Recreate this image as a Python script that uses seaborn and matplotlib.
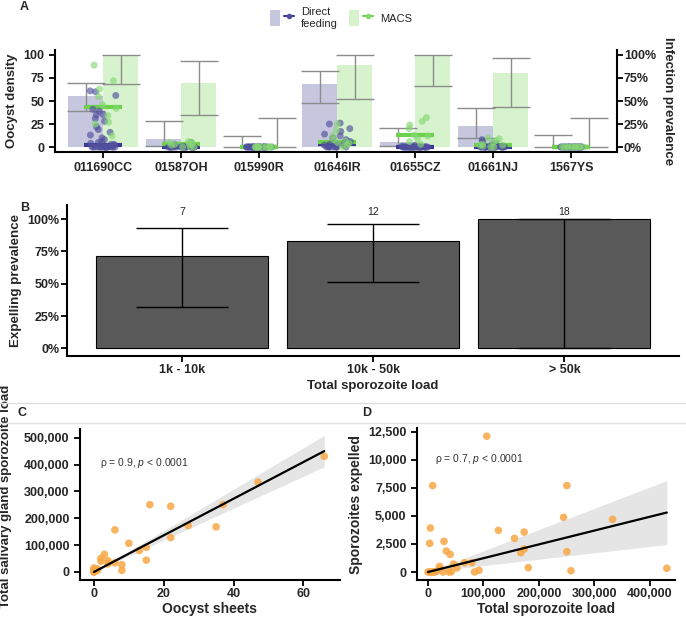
"""
Figura com quatro painéis: prevalência de infecção, prevalência de expulsão e correlações de carga de esporozoítos
"""

import numpy as np
import pandas as pd
import matplotlib
matplotlib.use('Agg')
import matplotlib.pyplot as plt
import seaborn as sns
from matplotlib.patches import Patch
from matplotlib.lines import Line2D
from matplotlib.legend_handler import HandlerTuple
from matplotlib.ticker import FuncFormatter

# ---------------- Dados ----------------
strains = ['011690CC', '01587OH', '015990R', '01646IR', '01655CZ', '01661NJ', '1567YS']
methods = ['Direct feeding', 'MACS']

# Prevalência de infecção (%) e IC 95%
prev_df = [55, 9, 0, 68, 6, 23, 0]
prev_df_lo = [39, 1, 0, 48, 1, 10, 0]
prev_df_hi = [70, 28, 12, 83, 21, 42, 13]
prev_macs = [100, 70, 0, 89, 100, 80, 0]
prev_macs_lo = [69, 35, 0, 52, 66, 44, 0]
prev_macs_hi = [100, 93, 31, 100, 100, 97, 31]

# Densidade de oocistos por mosquito
dens_df_011690CC = [0] * 18 + [1, 2, 3, 3, 4, 5, 6, 8, 10, 13, 16, 19, 22, 28, 31, 35, 35, 39, 41, 56, 60, 61]
dens_df_01587OH = [0] * 20 + [3, 5]
dens_df_015990R = [0] * 28
dens_df_01646IR = [0] * 8 + [1, 1, 2, 2, 3, 3, 4, 5, 6, 8, 10, 12, 14, 17, 20, 25, 26]
dens_df_01655CZ = [0] * 31 + [1, 2]
dens_df_01661NJ = [0] * 23 + [1, 1, 2, 3, 4, 6, 8]
dens_df_1567YS = [0] * 26

dens_macs_011690CC = [89, 72, 63, 55, 46, 42, 34, 27, 25, 12]
dens_macs_01587OH = [0, 0, 0, 2, 3, 3, 4, 5, 5, 6]
dens_macs_015990R = [0] * 10
dens_macs_01646IR = [0, 2, 4, 5, 6, 8, 12, 18, 25]
dens_macs_01655CZ = [3, 6, 9, 12, 13, 20, 24, 28, 32]
dens_macs_01661NJ = [0, 0, 1, 2, 2, 3, 5, 7, 9, 10]
dens_macs_1567YS = [0] * 10

# Painel B
load_bins = ['1k - 10k', '10k - 50k', '> 50k']
expel_prev = [71.4, 83.3, 100]
expel_lo = [32, 51.5, 0]
expel_hi = [93, 96, 100]
bin_n = [7, 12, 18]

# Painel C
oocyst_sheets = [66, 47, 37, 27, 35, 16, 22, 22, 6, 10, 13, 15, 15, 6, 8, 8, 3, 2, 2, 4, 4, 0, 0, 1, 1, 0, 0, 0]
sg_load = [431000, 335000, 251000, 173000, 168000, 251000, 245000, 128000, 157000, 107000, 80000, 92000,
           44000, 34000, 27000, 6000, 66000, 51000, 40000, 42000, 30000, 15000, 2000, 6000, 11000, 0, 0, 9000]

# Painel D
total_load = [106000, 8400, 250600, 244600, 333000, 4200, 127000, 173500, 156000, 3000, 28900, 33000,
              40000, 167500, 173500, 250600, 79000, 66000, 46000, 21000, 21000, 52000, 181000, 431000,
              92000, 84000, 258000, 42000, 38000, 27000, 15000, 0, 3000, 6000, 9000, 12000]
expelled = [12100, 7700, 7700, 4870, 4690, 3920, 3710, 3560, 3000, 2550, 2730, 1870,
            1570, 1720, 2050, 1810, 830, 830, 710, 500, 300, 360, 390, 330,
            150, 0, 120, 30, 0, 0, 60, 0, 0, 0, 0, 0]

# ---------------- Tabelas ----------------
prev_long = pd.DataFrame({
    'strain': strains * 2,
    'method': [methods[0]] * len(strains) + [methods[1]] * len(strains),
    'prev': prev_df + prev_macs,
    'lo': prev_df_lo + prev_macs_lo,
    'hi': prev_df_hi + prev_macs_hi,
})

dens_lists = {
    methods[0]: [dens_df_011690CC, dens_df_01587OH, dens_df_015990R, dens_df_01646IR,
                 dens_df_01655CZ, dens_df_01661NJ, dens_df_1567YS],
    methods[1]: [dens_macs_011690CC, dens_macs_01587OH, dens_macs_015990R, dens_macs_01646IR,
                 dens_macs_01655CZ, dens_macs_01661NJ, dens_macs_1567YS],
}
rows = []
for m in methods:
    for s, vals in zip(strains, dens_lists[m]):
        for v in vals:
            rows.append((s, m, v))
dens_long = pd.DataFrame(rows, columns=['strain', 'method', 'density'])

# ---------------- Estilo ----------------
sns.set_theme(style='ticks')
plt.rcParams['font.family'] = ['Liberation Sans', 'DejaVu Sans']
plt.rcParams['mathtext.fontset'] = 'custom'
plt.rcParams['mathtext.rm'] = 'Liberation Sans'
plt.rcParams['mathtext.it'] = 'Liberation Sans:italic'

bar_colors = {'Direct feeding': '#c6c6df', 'MACS': '#d7f3cd'}
dot_colors = {'Direct feeding': '#50509c', 'MACS': '#86d873'}
med_colors = {'Direct feeding': '#3a3a94', 'MACS': '#6cd24c'}
orange = '#f7a744'


def style_axis(ax, size=9):
    for sp in ['top', 'right']:
        ax.spines[sp].set_visible(False)
    for sp in ['left', 'bottom']:
        ax.spines[sp].set_linewidth(1.5)
        ax.spines[sp].set_color('black')
    ax.tick_params(axis='both', direction='out', length=4, width=1.3, color='black', labelsize=size)
    for lab in ax.get_xticklabels() + ax.get_yticklabels():
        lab.set_fontweight('bold')


def origin_fit(ax, x, y):
    """Regressão linear pela origem com banda de confiança de 95%."""
    x = np.asarray(x, float)
    y = np.asarray(y, float)
    sxx = (x * x).sum()
    slope = (x * y).sum() / sxx
    resid = y - slope * x
    s = np.sqrt((resid ** 2).sum() / (len(x) - 1))
    se = s / np.sqrt(sxx)
    t = 2.04
    grid = np.linspace(x.min(), x.max(), 100)
    ax.fill_between(grid, (slope - t * se) * grid, (slope + t * se) * grid,
                    color='black', alpha=0.1, linewidth=0, zorder=1)
    sns.lineplot(x=grid, y=slope * grid, color='black', linewidth=1.6, ax=ax, zorder=3)


fig = plt.figure(figsize=(6.86, 6.2), dpi=100)

# ---------------- Painel A ----------------
ax_d = fig.add_axes([55 / 686, 1 - 152 / 620, 562 / 686, 102 / 620])
ax_p = ax_d.twinx()
ax_d.set_zorder(2)
ax_d.patch.set_visible(False)

sns.barplot(data=prev_long, x='strain', y='prev', hue='method', order=strains, hue_order=methods,
            palette=bar_colors, width=0.9, saturation=1, errorbar=None, linewidth=0,
            legend=False, ax=ax_p)
for cont, m in zip(ax_p.containers, methods):
    sub = prev_long[prev_long['method'] == m].set_index('strain').loc[strains]
    xs = [b.get_x() + b.get_width() / 2 for b in cont]
    ax_p.errorbar(xs, sub['prev'], yerr=[sub['prev'] - sub['lo'], sub['hi'] - sub['prev']],
                  fmt='none', ecolor='#8c8c8c', elinewidth=1, capsize=14, capthick=1)

sns.stripplot(data=dens_long, x='strain', y='density', hue='method', order=strains, hue_order=methods,
              palette=dot_colors, dodge=False, jitter=0.17, size=5, alpha=0.65, linewidth=0,
              legend=False, ax=ax_d)
sns.pointplot(data=dens_long, x='strain', y='density', hue='method', order=strains, hue_order=methods,
              palette=med_colors, estimator='median', errorbar=None, dodge=False,
              markers='_', linestyles='none', markersize=28, markeredgewidth=3,
              legend=False, ax=ax_d)

for a in (ax_d, ax_p):
    a.set_ylim(-5.4, 105.4)
    a.set_yticks([0, 25, 50, 75, 100])
ax_d.set_xlim(-0.62, 6.59)
ax_p.yaxis.set_major_formatter(FuncFormatter(lambda v, p: f'{v:.0f}%'))

style_axis(ax_d)
ax_p.spines['top'].set_visible(False)
ax_p.spines['left'].set_visible(False)
ax_p.spines['bottom'].set_visible(False)
ax_p.spines['right'].set_linewidth(1.5)
ax_p.spines['right'].set_color('black')
ax_p.tick_params(axis='y', direction='out', length=4, width=1.3, color='black', labelsize=9, pad=1)
for lab in ax_p.get_yticklabels():
    lab.set_fontweight('bold')

ax_d.set_xlabel('')
ax_d.set_ylabel('Oocyst density', fontsize=9.5, fontweight='bold')
ax_p.set_ylabel('Infection prevalence', fontsize=9.5, fontweight='bold', rotation=270, va='bottom', labelpad=4)

handles = [(Patch(facecolor=bar_colors[m], edgecolor='none'),
            Line2D([], [], color=med_colors[m], lw=1.5, marker='o', markersize=4,
                   markerfacecolor=dot_colors[m], markeredgecolor='none')) for m in methods]
fig.legend(handles, ['Direct\nfeeding', 'MACS'], handler_map={tuple: HandlerTuple(ndivide=None)},
           loc='upper center', bbox_to_anchor=(0.497, 1.005), ncol=2, frameon=False, fontsize=8,
           handlelength=2.2, handleheight=1.8, columnspacing=1.0, handletextpad=0.6)

# ---------------- Painel B ----------------
ax_b = fig.add_axes([66.7 / 686, 1 - 355.7 / 620, 612.3 / 686, 150.7 / 620])
sns.barplot(x=load_bins, y=expel_prev, color='#595959', width=0.9, saturation=1, errorbar=None,
            edgecolor='black', linewidth=0.8, ax=ax_b)
xs_b = [b.get_x() + b.get_width() / 2 for b in ax_b.containers[0]]
ax_b.errorbar(xs_b, expel_prev,
              yerr=[[v - l for v, l in zip(expel_prev, expel_lo)], [h - v for v, h in zip(expel_prev, expel_hi)]],
              fmt='none', ecolor='black', elinewidth=1, capsize=33, capthick=1)
for x, n in zip(xs_b, bin_n):
    ax_b.text(x, 105.5, str(n), ha='center', va='center', fontsize=7.5, color='#222222')
ax_b.set_ylim(-5.7, 111)
ax_b.set_xlim(-0.606, 2.6)
ax_b.set_yticks([0, 25, 50, 75, 100])
ax_b.yaxis.set_major_formatter(FuncFormatter(lambda v, p: f'{v:.0f}%'))
style_axis(ax_b)
ax_b.tick_params(axis='y', pad=1)
ax_b.tick_params(axis='x', pad=2)
ax_b.set_ylabel('Expelling prevalence', fontsize=9.6, fontweight='bold', labelpad=4)
ax_b.set_xlabel('Total sporozoite load', fontsize=9.5, fontweight='bold', labelpad=3)

# ---------------- Painel C ----------------
ax_c = fig.add_axes([80 / 686, 1 - 580 / 620, 260 / 686, 151 / 620])
origin_fit(ax_c, oocyst_sheets, sg_load)
sns.scatterplot(x=oocyst_sheets, y=sg_load, ax=ax_c, s=30, color=orange, alpha=0.85,
                edgecolor='none', zorder=2)
ax_c.set_xlim(-4, 70.5)
ax_c.set_ylim(-30000, 533000)
ax_c.set_xticks([0, 20, 40, 60])
ax_c.set_yticks([0, 100000, 200000, 300000, 400000, 500000])
ax_c.yaxis.set_major_formatter(FuncFormatter(lambda v, p: f'{v:,.0f}'))
style_axis(ax_c)
ax_c.tick_params(axis='x', pad=2)
ax_c.set_xlabel('Oocyst sheets', fontsize=10, fontweight='bold', labelpad=1)
ax_c.set_ylabel('Total salivary gland sporozoite load', fontsize=9.5, fontweight='bold')
ax_c.yaxis.set_label_coords(-0.262, 0.556)
ax_c.text(0.077, 0.775, r'ρ = 0.9, $\mathit{p}$ < 0.0001', transform=ax_c.transAxes,
          fontsize=7.5, color='#333333', va='center')

# ---------------- Painel D ----------------
ax_e = fig.add_axes([417 / 686, 1 - 580 / 620, 258 / 686, 152 / 620])
origin_fit(ax_e, total_load, expelled)
sns.scatterplot(x=total_load, y=expelled, ax=ax_e, s=30, color=orange, alpha=0.85,
                edgecolor='none', zorder=2)
ax_e.set_xlim(-19900, 445800)
ax_e.set_ylim(-712, 12830)
ax_e.set_xticks([0, 100000, 200000, 300000, 400000])
ax_e.set_yticks([0, 2500, 5000, 7500, 10000, 12500])
ax_e.xaxis.set_major_formatter(FuncFormatter(lambda v, p: f'{v:,.0f}'))
ax_e.yaxis.set_major_formatter(FuncFormatter(lambda v, p: f'{v:,.0f}'))
style_axis(ax_e)
ax_e.tick_params(axis='x', pad=2)
ax_e.set_xlabel('Total sporozoite load', fontsize=10, fontweight='bold', labelpad=1)
ax_e.set_ylabel('Sporozoites expelled', fontsize=10, fontweight='bold')
ax_e.text(0.07, 0.796, r'ρ = 0.7, $\mathit{p}$ < 0.0001', transform=ax_e.transAxes,
          fontsize=7.5, color='#333333', va='center')

# ---------------- Moldura e rótulos dos painéis ----------------
for yy in (402.5, 422.5):
    fig.add_artist(Line2D([0, 1], [1 - yy / 620] * 2, transform=fig.transFigure, color='#e0e0e0', lw=1))

for lab, (px, py) in {'A': (24, 7), 'B': (25, 208), 'C': (22, 413), 'D': (367, 413)}.items():
    fig.text(px / 686, 1 - py / 620, lab, fontsize=9, fontweight='bold', ha='center', va='center')

fig.savefig('out.png', dpi=100)
